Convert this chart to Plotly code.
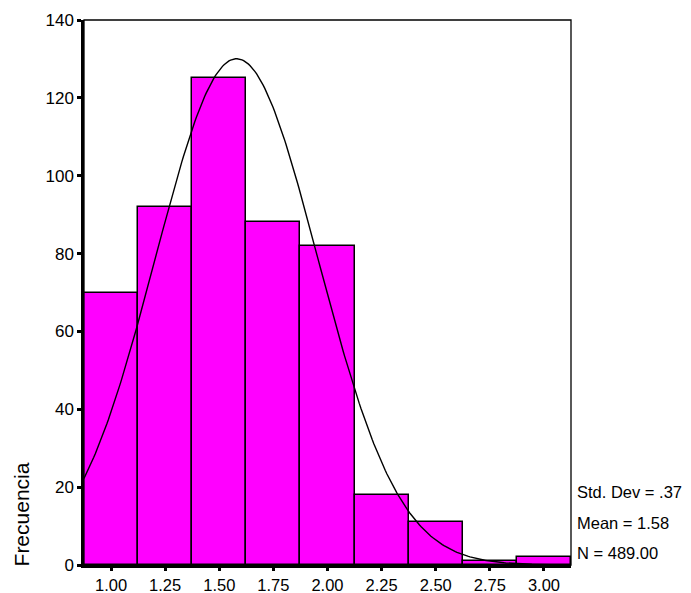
import numpy as np
import plotly.graph_objects as go

bin_centers = [1.00, 1.25, 1.50, 1.75, 2.00, 2.25, 2.50, 2.75, 3.00]
counts = [70, 92, 125, 88, 82, 18, 11, 1, 2]
tick_vals = [1.00, 1.25, 1.50, 1.75, 2.00, 2.25, 2.50, 2.75, 3.00]
tick_text = ["1.00", "1.25", "1.50", "1.75", "2.00", "2.25", "2.50", "2.75", "3.00"]
y_ticks = [0, 20, 40, 60, 80, 100, 120, 140]
stats_lines = ["Std. Dev = .37", "Mean = 1.58", "N = 489.00"]

mean = 1.58
sd = 0.375
n_total = 489
bin_width = 0.25

xs = np.linspace(0.875, 3.125, 300)
ys = n_total * bin_width / (sd * np.sqrt(2 * np.pi)) * np.exp(-0.5 * ((xs - mean) / sd) ** 2)

fig = go.Figure()
fig.add_trace(go.Bar(
    x=bin_centers, y=counts, width=bin_width,
    marker=dict(color="#ff00ff", line=dict(color="black", width=1.5)),
    hoverinfo="skip",
))
fig.add_trace(go.Scatter(
    x=xs, y=ys, mode="lines",
    line=dict(color="black", width=1.4),
    hoverinfo="skip",
))

font = dict(family="Liberation Sans, Arial, sans-serif", size=17, color="black")
xfont = dict(family="Liberation Sans, Arial, sans-serif", size=16.5, color="black")

fig.update_layout(
    width=683, height=585,
    margin=dict(l=76, r=120, t=12, b=28, autoexpand=False),
    paper_bgcolor="white", plot_bgcolor="white",
    showlegend=False,
    font=font,
    bargap=0,
    xaxis=dict(
        range=[0.875, 3.125],
        tickvals=tick_vals, ticktext=tick_text,
        showgrid=False, zeroline=False,
        showline=True, linecolor="black", linewidth=2.5,
        ticks="outside", ticklen=3, tickwidth=3, tickcolor="black",
        tickfont=xfont, automargin=False,
    ),
    yaxis=dict(
        range=[0, 140],
        tickvals=y_ticks,
        showgrid=False, zeroline=False,
        showline=True, linecolor="black", linewidth=2.5,
        ticks="outside", ticklen=4, tickwidth=3, tickcolor="black",
        tickfont=font, automargin=False,
    ),
    shapes=[dict(type="rect", xref="paper", yref="paper", x0=0, x1=1, y0=0, y1=1,
                 line=dict(color="black", width=1.3), fillcolor="rgba(0,0,0,0)")],
)

# y-axis title placed at the bottom, as in the reference
fig.add_annotation(
    text="Frecuencia", xref="paper", yref="paper", x=-0.129, y=-0.006,
    xanchor="center", yanchor="bottom", textangle=-90, showarrow=False,
    font=dict(family="Liberation Sans, Arial, sans-serif", size=21, color="black"),
)

stat_y = [0.1345, 0.0776, 0.022]
for line, yy in zip(stats_lines, stat_y):
    fig.add_annotation(
        text=line, xref="paper", yref="paper", x=1.0144, y=yy,
        xanchor="left", yanchor="middle", showarrow=False,
        font=dict(family="Liberation Sans, Arial, sans-serif", size=16.5, color="black"),
        xshift=-3,
    )

fig.write_html("out.html")
